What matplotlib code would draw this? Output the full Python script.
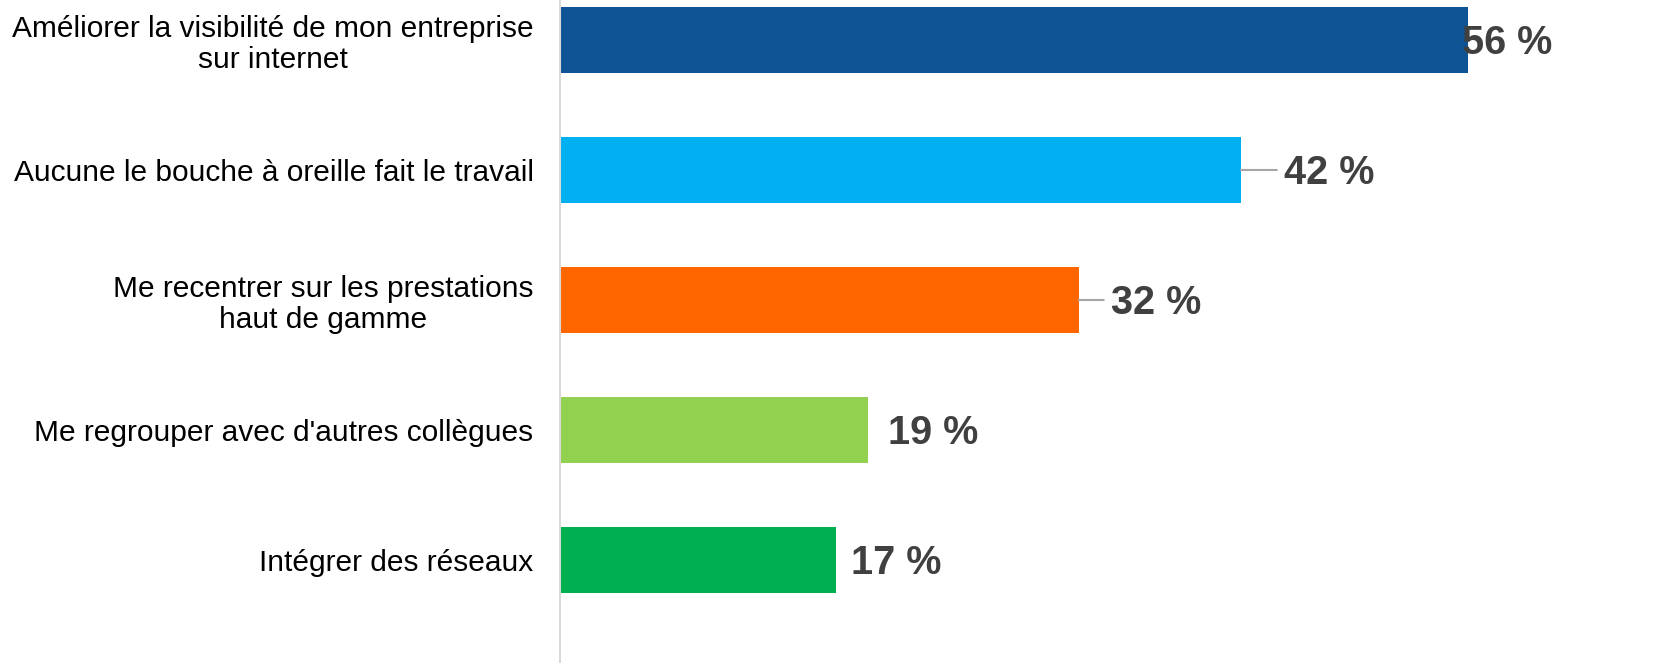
import matplotlib
matplotlib.use("Agg")
import matplotlib.pyplot as plt

plt.rcParams['font.family'] = ['Liberation Sans', 'DejaVu Sans']

# data
categories = [
    "Améliorer la visibilité de mon entreprise\nsur internet",
    "Aucune le bouche à oreille fait le travail",
    "Me recentrer sur les prestations\nhaut de gamme",
    "Me regrouper avec d'autres collègues",
    "Intégrer des réseaux",
]
values = [56, 42, 32, 19, 17]
colors = ["#0E5494", "#00B0F0", "#FF6600", "#92D050", "#00B050"]

# label offsets from bar end (pixels) and whether a leader line is drawn
label_dx = [-6, 43, 32, 20, 15]
leader = [False, True, True, False, False]

fig = plt.figure(figsize=(16.72, 6.63), dpi=100)
ax = fig.add_axes([560 / 1672, 0, 1 - 560 / 1672, 1])

pos = list(range(len(values)))
ax.barh(pos, values, height=0.51, color=colors)

ax.set_ylim(4 + 103 / 130, -40 / 130)
ax.set_xlim(0, 68.6)

for i, v in enumerate(values):
    dx = label_dx[i]
    if leader[i]:
        ax.annotate("", xy=(v, i), xytext=(dx * 0.72 - 5, 0), textcoords="offset points",
                    arrowprops=dict(arrowstyle="-", color="#A6A6A6", lw=1.5,
                                    shrinkA=0, shrinkB=0))
    ax.annotate(f"{v} %", xy=(v, i), xytext=(dx * 0.72, -2), textcoords="offset points",
                ha="left", va="center", fontsize=28.5, fontweight="bold", color="#404040")

ax.set_yticks(pos)
ax.set_yticklabels(categories, fontsize=21.5, multialignment="center", color="black",
                   linespacing=1.13)
ax.tick_params(axis="y", length=0, pad=19)
ax.set_xticks([])

for s in ["top", "right", "bottom"]:
    ax.spines[s].set_visible(False)
ax.spines["left"].set_color("#D9D9D9")
ax.spines["left"].set_linewidth(1.5)

fig.savefig("out.png", dpi=100)
